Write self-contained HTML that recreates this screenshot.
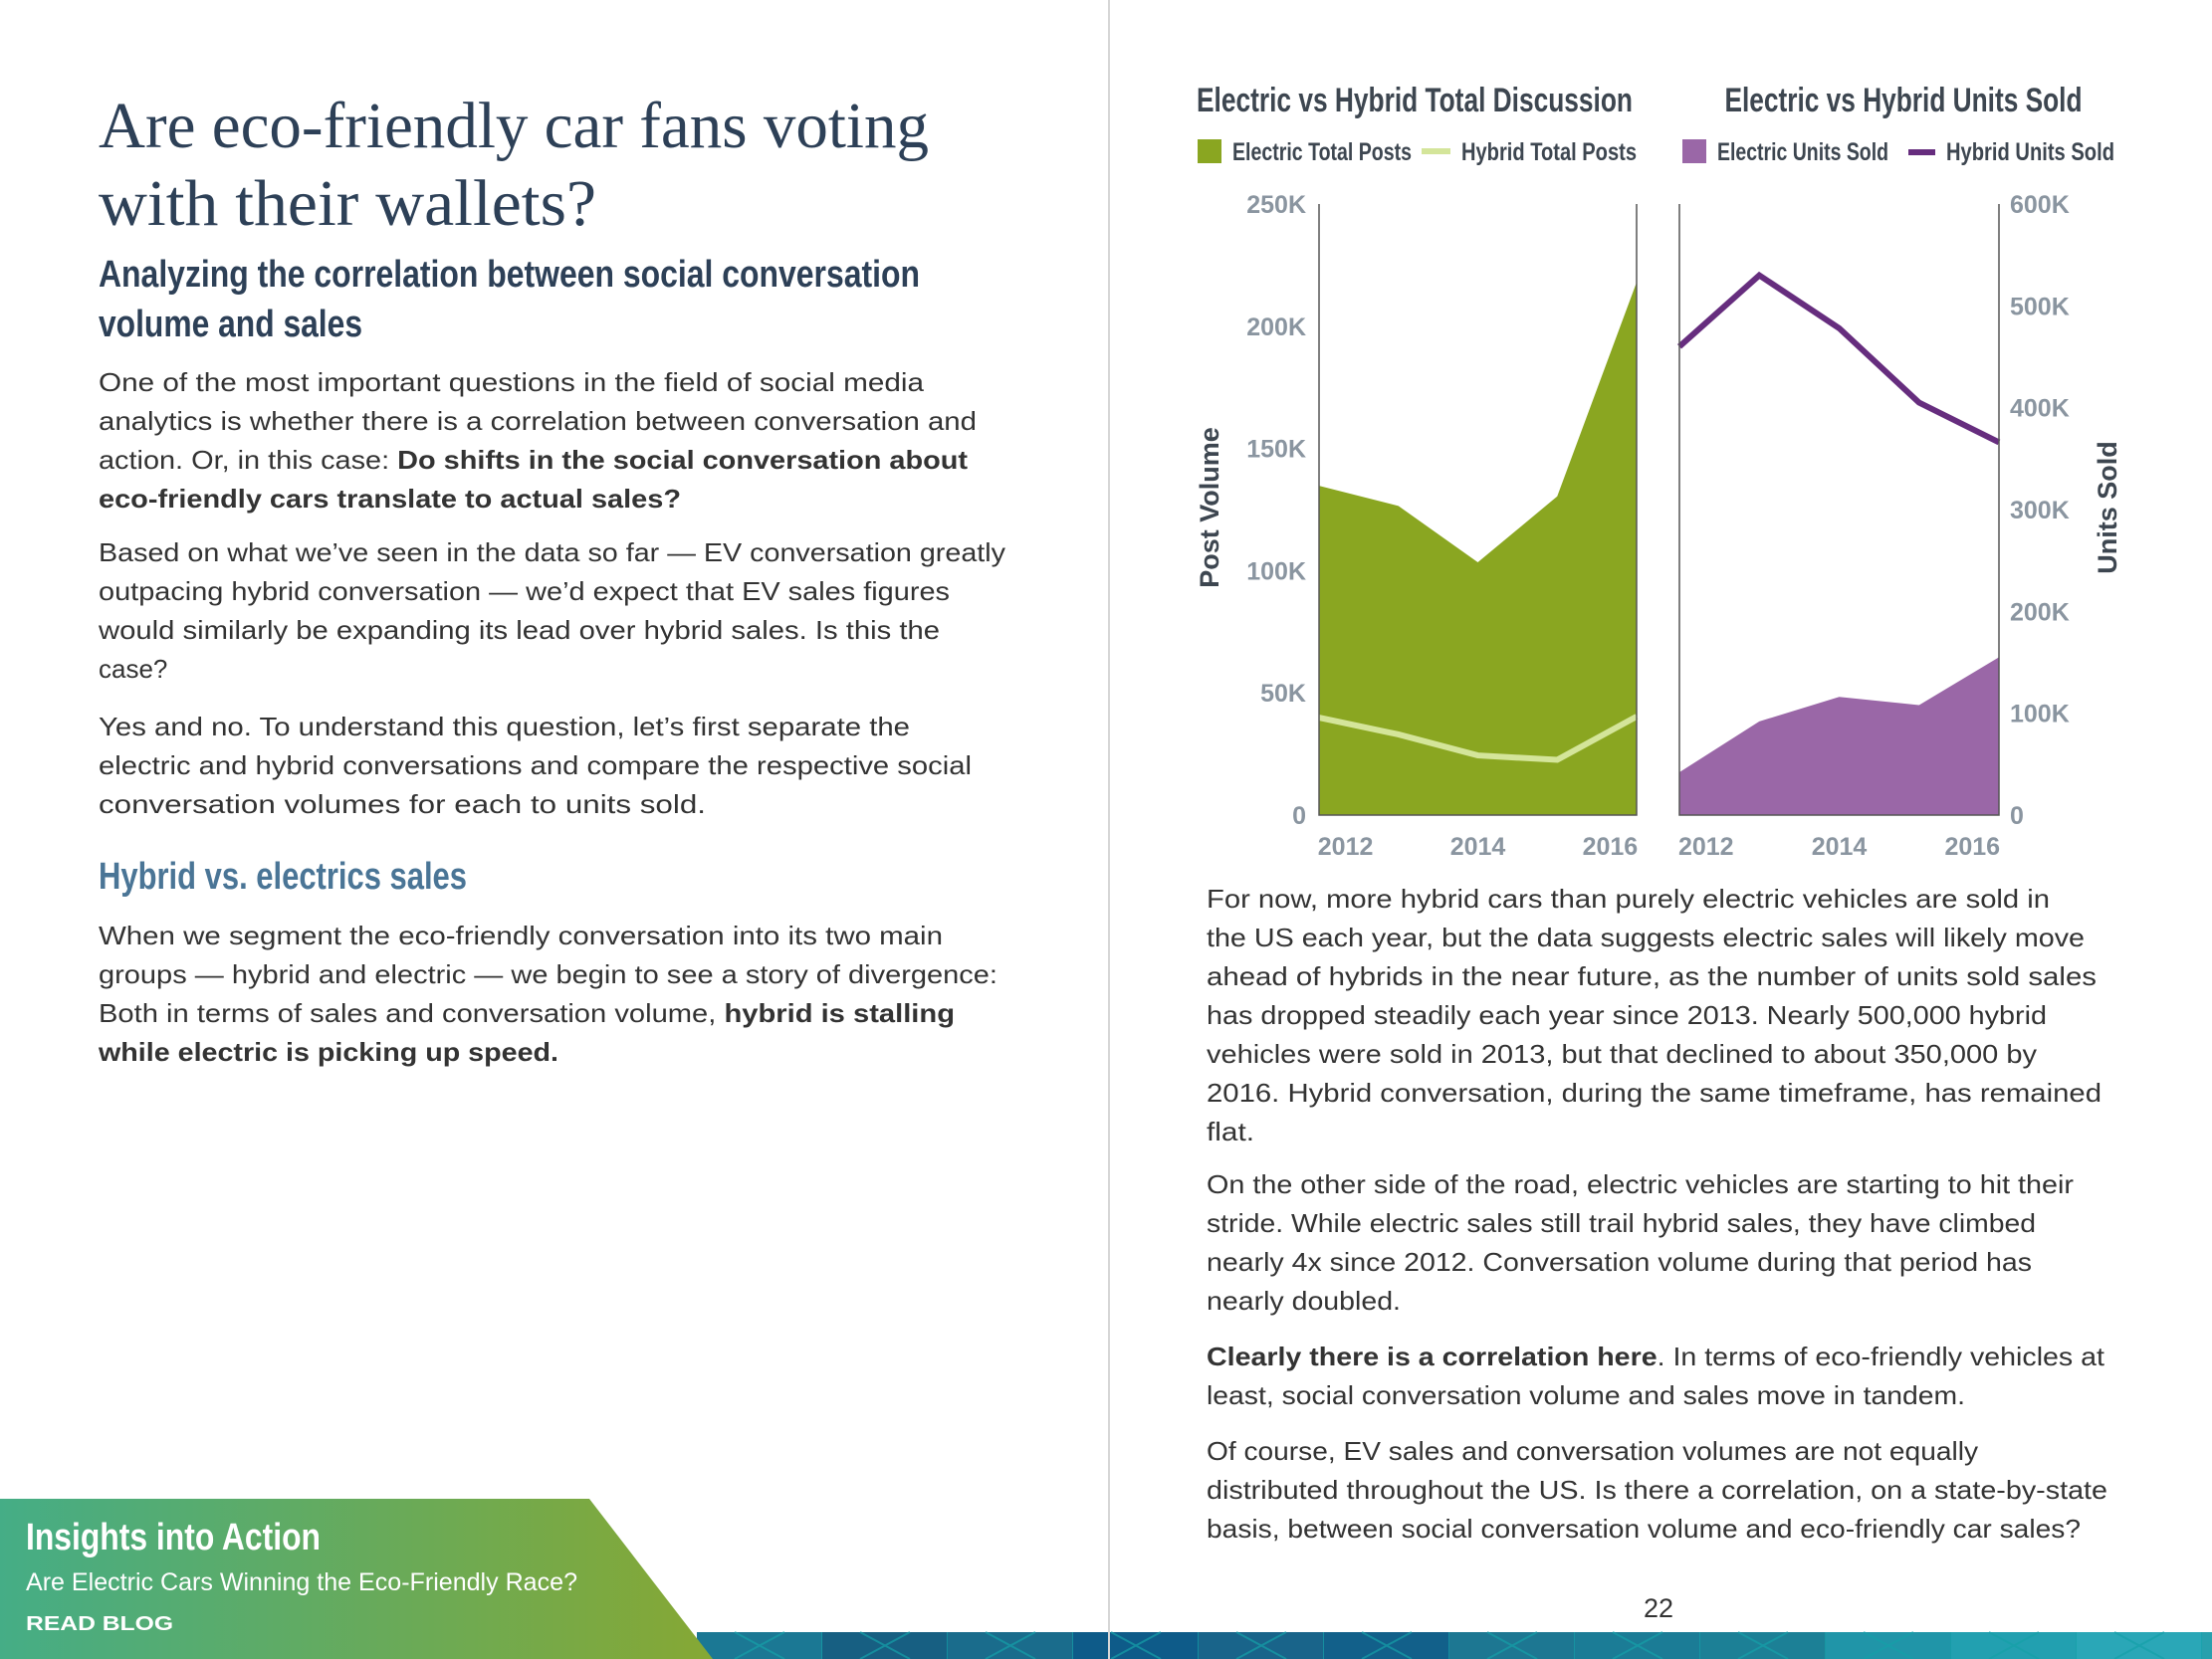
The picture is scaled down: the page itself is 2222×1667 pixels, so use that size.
<!DOCTYPE html>
<html><head><meta charset="utf-8">
<style>
html,body{margin:0;padding:0;background:#fff;}
svg{display:block;}
.body{font-family:"Liberation Sans",sans-serif;font-size:26px;fill:#333;}
.narrow{font-family:"Liberation Sans Narrow","Liberation Sans",sans-serif;font-weight:bold;}
.tick{font-family:"Liberation Sans Narrow","Liberation Sans",sans-serif;font-weight:bold;font-size:25px;fill:#8a95a0;}
</style></head>
<body>
<svg id="page" width="2222" height="1667" viewBox="0 0 2222 1667" xmlns="http://www.w3.org/2000/svg">
<defs>
<linearGradient id="gban" x1="0" x2="1" y1="0" y2="0"><stop offset="0" stop-color="#45ad86"/><stop offset="1" stop-color="#86a834"/></linearGradient>
</defs>
<g id="strip"></g>
<line x1="1114" y1="0" x2="1114" y2="1667" stroke="#d6d6d6" stroke-width="2"/>

<text x="99" y="148" font-family="Liberation Serif,serif" font-size="66" fill="#2d4057" textLength="834" lengthAdjust="spacingAndGlyphs">Are eco-friendly car fans voting</text>
<text x="99" y="226" font-family="Liberation Serif,serif" font-size="66" fill="#2d4057" textLength="500" lengthAdjust="spacingAndGlyphs">with their wallets?</text>
<text class="narrow" x="99" y="288" font-size="38" fill="#2d4057" textLength="825" lengthAdjust="spacingAndGlyphs">Analyzing the correlation between social conversation</text>
<text class="narrow" x="99" y="338" font-size="38" fill="#2d4057" textLength="265" lengthAdjust="spacingAndGlyphs">volume and sales</text>

<g class="body">
<text x="99" y="393" textLength="829" lengthAdjust="spacingAndGlyphs">One of the most important questions in the field of social media</text>
<text x="99" y="432" textLength="882" lengthAdjust="spacingAndGlyphs">analytics is whether there is a correlation between conversation and</text>
<text x="99" y="471" textLength="873" lengthAdjust="spacingAndGlyphs">action. Or, in this case: <tspan font-weight="bold">Do shifts in the social conversation about</tspan></text>
<text x="99" y="510" textLength="585" lengthAdjust="spacingAndGlyphs" font-weight="bold">eco-friendly cars translate to actual sales?</text>
</g>
<g class="body">
<text x="99" y="564" textLength="911" lengthAdjust="spacingAndGlyphs">Based on what we’ve seen in the data so far — EV conversation greatly</text>
<text x="99" y="603" textLength="855" lengthAdjust="spacingAndGlyphs">outpacing hybrid conversation — we’d expect that EV sales figures</text>
<text x="99" y="642" textLength="845" lengthAdjust="spacingAndGlyphs">would similarly be expanding its lead over hybrid sales. Is this the</text>
<text x="99" y="681">case?</text>
</g>
<g class="body">
<text x="99" y="739" textLength="815" lengthAdjust="spacingAndGlyphs">Yes and no. To understand this question, let’s first separate the</text>
<text x="99" y="778" textLength="877" lengthAdjust="spacingAndGlyphs">electric and hybrid conversations and compare the respective social</text>
<text x="99" y="817" textLength="610" lengthAdjust="spacingAndGlyphs">conversation volumes for each to units sold.</text>
</g>
<text class="narrow" x="99" y="893" font-size="38" fill="#4a7596" textLength="370" lengthAdjust="spacingAndGlyphs">Hybrid vs. electrics sales</text>
<g class="body">
<text x="99" y="949" textLength="848" lengthAdjust="spacingAndGlyphs">When we segment the eco-friendly conversation into its two main</text>
<text x="99" y="988" textLength="903" lengthAdjust="spacingAndGlyphs">groups — hybrid and electric — we begin to see a story of divergence:</text>
<text x="99" y="1027" textLength="860" lengthAdjust="spacingAndGlyphs">Both in terms of sales and conversation volume, <tspan font-weight="bold">hybrid is stalling</tspan></text>
<text x="99" y="1066" textLength="462" lengthAdjust="spacingAndGlyphs" font-weight="bold">while electric is picking up speed.</text>
</g>

<g class="body">
<text x="1212" y="912" textLength="847" lengthAdjust="spacingAndGlyphs">For now, more hybrid cars than purely electric vehicles are sold in</text>
<text x="1212" y="951" textLength="882" lengthAdjust="spacingAndGlyphs">the US each year, but the data suggests electric sales will likely move</text>
<text x="1212" y="990" textLength="894" lengthAdjust="spacingAndGlyphs">ahead of hybrids in the near future, as the number of units sold sales</text>
<text x="1212" y="1029" textLength="844" lengthAdjust="spacingAndGlyphs">has dropped steadily each year since 2013. Nearly 500,000 hybrid</text>
<text x="1212" y="1068" textLength="834" lengthAdjust="spacingAndGlyphs">vehicles were sold in 2013, but that declined to about 350,000 by</text>
<text x="1212" y="1107" textLength="899" lengthAdjust="spacingAndGlyphs">2016. Hybrid conversation, during the same timeframe, has remained</text>
<text x="1212" y="1146" textLength="48" lengthAdjust="spacingAndGlyphs">flat.</text>
</g>
<g class="body">
<text x="1212" y="1199" textLength="871" lengthAdjust="spacingAndGlyphs">On the other side of the road, electric vehicles are starting to hit their</text>
<text x="1212" y="1238" textLength="833" lengthAdjust="spacingAndGlyphs">stride. While electric sales still trail hybrid sales, they have climbed</text>
<text x="1212" y="1277" textLength="829" lengthAdjust="spacingAndGlyphs">nearly 4x since 2012. Conversation volume during that period has</text>
<text x="1212" y="1316" textLength="195" lengthAdjust="spacingAndGlyphs">nearly doubled.</text>
</g>
<g class="body">
<text x="1212" y="1372" textLength="902" lengthAdjust="spacingAndGlyphs"><tspan font-weight="bold">Clearly there is a correlation here</tspan>. In terms of eco-friendly vehicles at</text>
<text x="1212" y="1411" textLength="762" lengthAdjust="spacingAndGlyphs">least, social conversation volume and sales move in tandem.</text>
</g>
<g class="body">
<text x="1212" y="1467" textLength="775" lengthAdjust="spacingAndGlyphs">Of course, EV sales and conversation volumes are not equally</text>
<text x="1212" y="1506" textLength="905" lengthAdjust="spacingAndGlyphs">distributed throughout the US. Is there a correlation, on a state-by-state</text>
<text x="1212" y="1545" textLength="878" lengthAdjust="spacingAndGlyphs">basis, between social conversation volume and eco-friendly car sales?</text>
</g>
<text x="1666" y="1625" font-family="Liberation Sans,sans-serif" font-size="27" fill="#333" text-anchor="middle">22</text>

<g>
<polygon points="0,1506 592,1506 716,1667 0,1667" fill="url(#gban)"/>
<text class="narrow" x="26" y="1557" font-size="38" fill="#fff" textLength="296" lengthAdjust="spacingAndGlyphs">Insights into Action</text>
<text x="26" y="1598" font-family="Liberation Sans,sans-serif" font-size="25" fill="#fff" textLength="554" lengthAdjust="spacingAndGlyphs">Are Electric Cars Winning the Eco-Friendly Race?</text>
<text x="26" y="1638" font-family="Liberation Sans,sans-serif" font-weight="bold" font-size="20" fill="#fff" textLength="148" lengthAdjust="spacingAndGlyphs">READ BLOG</text>
</g>

<g id="chart1"></g>
<g id="chart2"></g>
</svg>
<script>
const years = [2011.6, 2012.8, 2014, 2015.2, 2016.4];
const xTicks = [2012, 2014, 2016];
const electricPosts = [134700, 126500, 103400, 130400, 218000];
const hybridPosts = [39900, 33000, 24400, 22600, 40300];
const postTicks = [0, 50000, 100000, 150000, 200000, 250000];
const postTickLabels = ['0', '50K', '100K', '150K', '200K', '250K'];
const electricUnits = [42000, 92000, 116000, 108000, 155000];
const hybridUnits = [460000, 530000, 478000, 405000, 366000];
const unitTicks = [0, 100000, 200000, 300000, 400000, 500000, 600000];
const unitTickLabels = ['0', '100K', '200K', '300K', '400K', '500K', '600K'];

const NS = 'http://www.w3.org/2000/svg';
function mk(tag, attrs, parent, txt) {
  const e = document.createElementNS(NS, tag);
  for (const k in attrs) e.setAttribute(k, attrs[k]);
  if (txt !== undefined) e.textContent = txt;
  parent.appendChild(e);
  return e;
}
const Y0 = 819, Y1 = 205;
function xs(x0, x1) { return v => x0 + (v - years[0]) / (years[years.length - 1] - years[0]) * (x1 - x0); }
function ys(max) { return v => Y0 - v / max * (Y0 - Y1); }

const strip = document.getElementById('strip');
const cols = ['#1b7894','#175f82','#1a6c8c','#0e5b89','#19648a','#12608a','#1d7792','#1b7c96','#1c8096','#2095a8','#22a0b0','#2aa7b7','#28a0ad'];
for (let i = 0; i < cols.length; i++) {
  const x = 700 + i * 126;
  const r = mk('rect', {x: x, y: 1640, width: 127, height: 27, fill: cols[i]}, strip);
  
  
  const l = mk('path', {d: `M${x+38},1640 L${x+88},1667 M${x+88},1640 L${x+38},1667 M${x+126},1640 V1667`, stroke: '#16a0a8', 'stroke-width': 2, fill: 'none', opacity: 0.7}, strip);
  
  
}

(function () {
  const g = document.getElementById('chart1');
  const X = xs(1325, 1644), Y = ys(250000);
  const t = mk('text', {class: 'narrow', x: 1421, y: 112, 'font-size': 34, fill: '#3d4650', 'text-anchor': 'middle', textLength: 438, lengthAdjust: 'spacingAndGlyphs'}, g, 'Electric vs Hybrid Total Discussion');
  
  
  let e = mk('rect', {x: 1203, y: 140, width: 24, height: 24, fill: '#8aa621'}, g);
  
  
  e = mk('text', {class: 'narrow', x: 1238, y: 161, 'font-size': 25, fill: '#3d4650', textLength: 180, lengthAdjust: 'spacingAndGlyphs'}, g, 'Electric Total Posts');
  
  
  e = mk('line', {x1: 1428, x2: 1457, y1: 152, y2: 152, stroke: '#d4e59a', 'stroke-width': 6}, g);
  
  
  e = mk('text', {class: 'narrow', x: 1468, y: 161, 'font-size': 25, fill: '#3d4650', textLength: 176, lengthAdjust: 'spacingAndGlyphs'}, g, 'Hybrid Total Posts');
  
  

  let d = `M${X(years[0])},${Y(0)}`;
  years.forEach((yr, i) => d += ` L${X(yr)},${Y(electricPosts[i])}`);
  d += ` L${X(years[years.length - 1])},${Y(0)} Z`;
  e = mk('path', {d: d, fill: '#8aa621'}, g);
  
  
  e = mk('polyline', {points: years.map((yr, i) => X(yr) + ',' + Y(hybridPosts[i])).join(' '), fill: 'none', stroke: '#d4e59a', 'stroke-width': 6}, g);
  
  

  e = mk('path', {d: `M1325,${Y1} V${Y0} H1644 V${Y1}`, fill: 'none', stroke: '#555', 'stroke-width': 1.5}, g);
  
  
  postTicks.forEach((v, i) => {
    const tl = mk('text', {class: 'tick', x: 1312, y: Y(v) + 9, 'text-anchor': 'end'}, g, postTickLabels[i]);
    
    
  });
  xTicks.forEach(v => {
    const tl = mk('text', {class: 'tick', x: X(v), y: 859, 'text-anchor': 'middle'}, g, String(v));
    
    
  });
  e = mk('text', {class: 'narrow', x: 0, y: 0, 'font-size': 27, fill: '#3d4650', 'text-anchor': 'middle', transform: 'translate(1224,510) rotate(-90)'}, g, 'Post Volume');
  
  
})();

(function () {
  const g = document.getElementById('chart2');
  const X = xs(1687, 2008), Y = ys(600000);
  let e = mk('text', {class: 'narrow', x: 1912, y: 112, 'font-size': 34, fill: '#3d4650', 'text-anchor': 'middle', textLength: 359, lengthAdjust: 'spacingAndGlyphs'}, g, 'Electric vs Hybrid Units Sold');
  
  
  e = mk('rect', {x: 1690, y: 140, width: 24, height: 24, fill: '#9a67a7'}, g);
  
  
  e = mk('text', {class: 'narrow', x: 1725, y: 161, 'font-size': 25, fill: '#3d4650', textLength: 172, lengthAdjust: 'spacingAndGlyphs'}, g, 'Electric Units Sold');
  
  
  e = mk('line', {x1: 1917, x2: 1944, y1: 153, y2: 153, stroke: '#662d7e', 'stroke-width': 6}, g);
  
  
  e = mk('text', {class: 'narrow', x: 1955, y: 161, 'font-size': 25, fill: '#3d4650', textLength: 169, lengthAdjust: 'spacingAndGlyphs'}, g, 'Hybrid Units Sold');
  
  

  let d = `M${X(years[0])},${Y(0)}`;
  years.forEach((yr, i) => d += ` L${X(yr)},${Y(electricUnits[i])}`);
  d += ` L${X(years[years.length - 1])},${Y(0)} Z`;
  e = mk('path', {d: d, fill: '#9a67a7'}, g);
  
  
  e = mk('polyline', {points: years.map((yr, i) => X(yr) + ',' + Y(hybridUnits[i])).join(' '), fill: 'none', stroke: '#662d7e', 'stroke-width': 6}, g);
  
  

  e = mk('path', {d: `M1687,${Y1} V${Y0} H2008 V${Y1}`, fill: 'none', stroke: '#555', 'stroke-width': 1.5}, g);
  
  
  unitTicks.forEach((v, i) => {
    const tl = mk('text', {class: 'tick', x: 2019, y: Y(v) + 9, 'text-anchor': 'start'}, g, unitTickLabels[i]);
    
    
  });
  xTicks.forEach(v => {
    const tl = mk('text', {class: 'tick', x: X(v), y: 859, 'text-anchor': 'middle'}, g, String(v));
    
    
  });
  e = mk('text', {class: 'narrow', x: 0, y: 0, 'font-size': 27, fill: '#3d4650', 'text-anchor': 'middle', transform: 'translate(2126,510) rotate(-90)'}, g, 'Units Sold');
  
  
})();
</script>
</body></html>
